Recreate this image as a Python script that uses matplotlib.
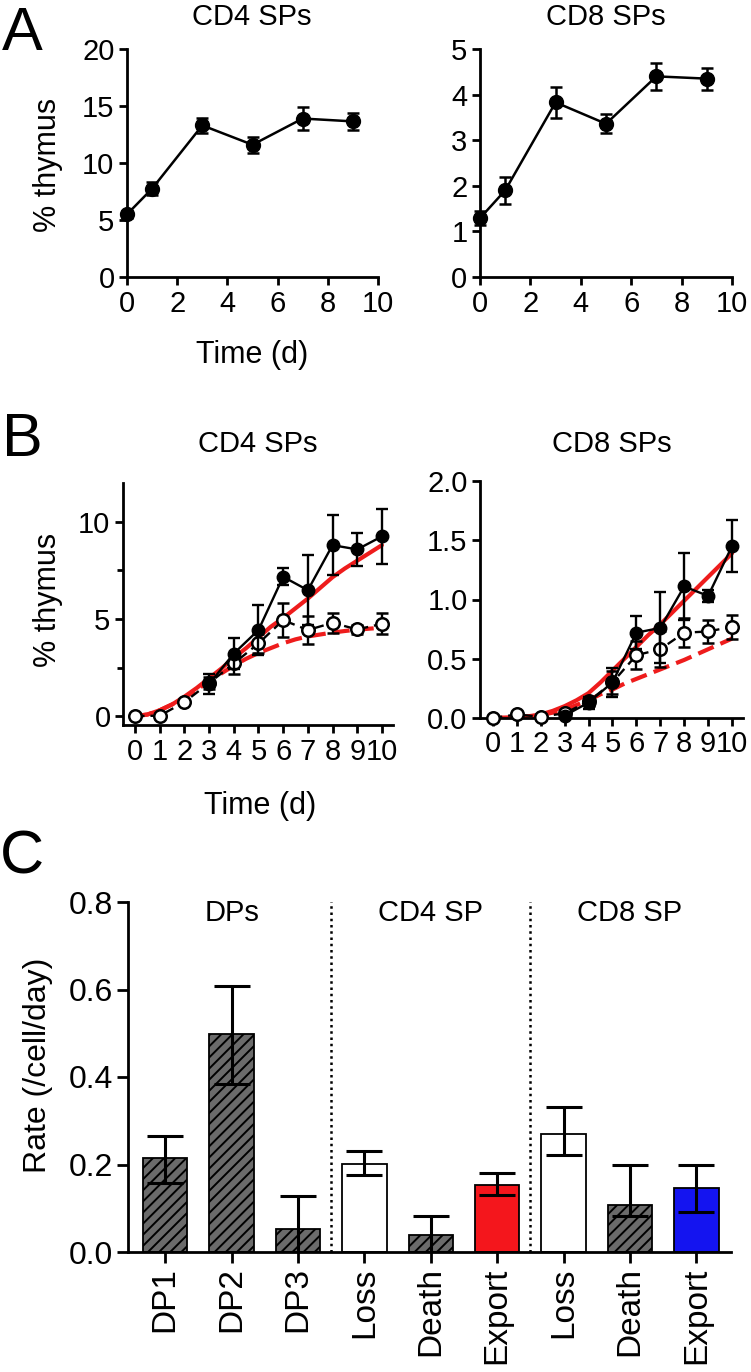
import numpy as np
import matplotlib.pyplot as plt
from matplotlib.ticker import MultipleLocator

plt.rcParams['font.family'] = ['Liberation Sans', 'DejaVu Sans']
plt.rcParams['hatch.linewidth'] = 1.4

# ---- panel A data: % thymus over time
a_days = [0, 1, 3, 5, 7, 9]
a_cd4 = [5.5, 7.75, 13.3, 11.6, 13.9, 13.65]
a_cd4_err = [0.3, 0.6, 0.67, 0.7, 1.0, 0.75]
a_cd8 = [1.29, 1.9, 3.83, 3.36, 4.4, 4.35]
a_cd8_err = [0.15, 0.3, 0.34, 0.21, 0.3, 0.24]

# ---- panel B data
b_days = [0, 1, 2, 3, 4, 5, 6, 7, 8, 9, 10]
b_fill_days = [3, 4, 5, 6, 7, 8, 9, 10]
b_cd4_fill = [1.65, 3.22, 4.43, 7.17, 6.48, 8.8, 8.58, 9.25]
b_cd4_fill_err = [0.5, 0.78, 1.27, 0.43, 1.8, 1.55, 0.84, 1.4]
b_cd4_open = [0.0, 0.02, 0.72, 1.7, 2.71, 3.74, 4.94, 4.43, 4.8, 4.46, 4.75]
b_cd4_open_err = [0.05, 0.05, 0.1, 0.3, 0.55, 0.5, 0.86, 0.7, 0.53, 0.23, 0.55]
b_cd8_fill = [0.02, 0.13, 0.3, 0.72, 0.76, 1.11, 1.03, 1.45]
b_cd8_fill_err = [0.02, 0.05, 0.12, 0.14, 0.3, 0.28, 0.05, 0.22]
b_cd8_open = [0.0, 0.03, 0.01, 0.04, 0.14, 0.3, 0.53, 0.58, 0.72, 0.73, 0.77]
b_cd8_open_err = [0.01, 0.01, 0.01, 0.02, 0.04, 0.1, 0.12, 0.15, 0.12, 0.1, 0.1]

# model curves (at half-day steps)
fit_t = [0, 0.5, 1, 1.5, 2, 2.5, 3, 3.5, 4, 4.5, 5, 5.5, 6, 6.5, 7, 7.5, 8, 8.5, 9, 9.5, 10]
fit_cd4 = [0, 0.08, 0.3, 0.6, 1.0, 1.45, 1.95, 2.45, 3.0, 3.5, 4.05, 4.6, 5.05, 5.55,
           6.05, 6.6, 7.15, 7.6, 8.0, 8.4, 8.8]
fit_cd4_dash = [0, 0.08, 0.3, 0.6, 0.95, 1.35, 1.8, 2.2, 2.6, 2.95, 3.25, 3.5, 3.75,
                3.95, 4.1, 4.2, 4.3, 4.38, 4.45, 4.5, 4.55]
fit_cd8 = [0, 0.002, 0.005, 0.015, 0.03, 0.06, 0.1, 0.15, 0.21, 0.3, 0.4, 0.5, 0.6,
           0.7, 0.79, 0.89, 0.99, 1.09, 1.19, 1.29, 1.39]
fit_cd8_dash = [0, 0.002, 0.005, 0.012, 0.025, 0.045, 0.07, 0.11, 0.15, 0.2, 0.24,
                0.29, 0.33, 0.37, 0.41, 0.45, 0.49, 0.535, 0.58, 0.625, 0.67]

# ---- panel C data: rates
c_labels = ['DP1', 'DP2', 'DP3', 'Loss', 'Death', 'Export', 'Loss', 'Death', 'Export']
c_rate = [0.215, 0.499, 0.053, 0.201, 0.040, 0.154, 0.270, 0.108, 0.146]
c_low = [0.157, 0.383, 0.0, 0.176, 0.0, 0.130, 0.222, 0.082, 0.092]
c_high = [0.265, 0.608, 0.127, 0.230, 0.082, 0.180, 0.332, 0.200, 0.199]
c_colors = ['#6b6b6b', '#6b6b6b', '#6b6b6b', 'white', '#6b6b6b', '#f4161c',
            'white', '#6b6b6b', '#1414f0']
c_hatch = ['///', '///', '///', '', '///', '', '', '///', '']
c_groups = ['DPs', 'CD4 SP', 'CD8 SP']

W, H = 751, 1372
fig = plt.figure(figsize=(W / 100, H / 100), dpi=100)


def box(x0, y0, x1, y1):
    return [x0 / W, 1 - y1 / H, (x1 - x0) / W, (y1 - y0) / H]


def ftext(x, y, s, **kw):
    fig.text(x / W, 1 - y / H, s, ha=kw.pop('ha', 'center'), va=kw.pop('va', 'center'), **kw)


def style(ax, size=21):
    for s in ['top', 'right']:
        ax.spines[s].set_visible(False)
    for s in ['left', 'bottom']:
        ax.spines[s].set_linewidth(2)
    ax.tick_params(width=2, length=6, labelsize=size, pad=3)


# ---- A
axA1 = fig.add_axes(box(127, 49, 378, 277))
axA2 = fig.add_axes(box(480, 49, 732, 277))
for ax, vals, errs, top in [(axA1, a_cd4, a_cd4_err, 20), (axA2, a_cd8, a_cd8_err, 5)]:
    style(ax)
    ax.errorbar(a_days, vals, yerr=errs, fmt='-o', color='black', ms=10, lw=1.8,
                capsize=4.5, elinewidth=1.8, capthick=1.8, clip_on=False, zorder=3)
    ax.set_xlim(0, 10)
    ax.set_ylim(0, top)
    ax.xaxis.set_major_locator(MultipleLocator(2))
    ax.yaxis.set_major_locator(MultipleLocator(5 if top == 20 else 1))

# ---- B
axB1 = fig.add_axes(box(123, 483, 393, 725))
axB2 = fig.add_axes(box(480, 481, 743, 718))
specs = [(axB1, b_cd4_fill, b_cd4_fill_err, b_cd4_open, b_cd4_open_err, fit_cd4, fit_cd4_dash),
         (axB2, b_cd8_fill, b_cd8_fill_err, b_cd8_open, b_cd8_open_err, fit_cd8, fit_cd8_dash)]
for ax, f, fe, o, oe, fs, fd in specs:
    style(ax)
    ax.plot(fit_t, fs, color='#ee1c1c', lw=3, zorder=2, solid_capstyle='round')
    ax.plot(fit_t, fd, color='#ee1c1c', lw=3, zorder=2, dashes=(4, 1.8))
    ax.errorbar(b_days, o, yerr=oe, fmt='o', color='black', mfc='white', mec='black',
                mew=1.8, ms=9, capsize=4.5, elinewidth=1.7, capthick=1.7, zorder=3,
                clip_on=False)
    ax.plot(b_days, o, color='black', lw=1.7, dashes=(4, 2.5), zorder=2.5)
    ax.errorbar(b_fill_days, f, yerr=fe, fmt='-o', color='black', ms=9, lw=1.7,
                capsize=4.5, elinewidth=1.7, capthick=1.7, zorder=4, clip_on=False)
    ax.set_xticks(b_days)

axB1.set_xlim(-0.49, 10.45)
axB1.set_ylim(-0.46, 12.0)
axB1.set_yticks([0, 5, 10])
axB1.yaxis.set_minor_locator(MultipleLocator(2.5))
axB1.tick_params(axis='y', which='minor', length=4, width=2)
axB2.set_xlim(-0.54, 10.46)
axB2.set_ylim(0, 2.0)
axB2.set_yticks([0, 0.5, 1.0, 1.5, 2.0])
axB2.set_yticklabels(['0.0', '0.5', '1.0', '1.5', '2.0'])

# ---- C
axC = fig.add_axes(box(128, 902, 731, 1252))
style(axC, size=23)
x = np.arange(len(c_labels))
bars = axC.bar(x, c_rate, width=0.67, color=c_colors, edgecolor='black', linewidth=1.3,
               zorder=2)
for b, h in zip(bars, c_hatch):
    b.set_hatch(h)
yerr = [np.array(c_rate) - np.array(c_low), np.array(c_high) - np.array(c_rate)]
axC.errorbar(x, c_rate, yerr=yerr, fmt='none', ecolor='black', elinewidth=2.2,
             capsize=13, capthick=2.2, zorder=3)
axC.vlines([2.5, 5.5], 0, 0.81, colors='black', linestyles=(0, (1, 1.5)), lw=1.8)
for gx, g in zip([1, 4, 7], c_groups):
    axC.text(gx, 0.775, g, ha='center', va='center', fontsize=21)
axC.set_xlim(-0.56, 8.52)
axC.set_ylim(0, 0.8)
axC.set_xticks(x)
axC.set_xticklabels(c_labels, rotation=90, fontsize=24)
axC.set_yticks([0, 0.2, 0.4, 0.6, 0.8])
axC.set_yticklabels(['0.0', '0.2', '0.4', '0.6', '0.8'])
axC.tick_params(length=8)

# ---- text
ftext(252, 17, 'CD4 SPs', fontsize=21)
ftext(606, 17, 'CD8 SPs', fontsize=21)
ftext(258, 444, 'CD4 SPs', fontsize=21)
ftext(612, 444, 'CD8 SPs', fontsize=21)
ftext(48, 165, '% thymus', fontsize=22, rotation=90)
ftext(48, 600, '% thymus', fontsize=22, rotation=90)
ftext(252, 355, 'Time (d)', fontsize=22)
ftext(260, 806, 'Time (d)', fontsize=22)
ftext(38, 1065, 'Rate (/cell/day)', fontsize=23, rotation=90)
ftext(2, 6, 'A', fontsize=44, ha='left', va='top')
ftext(2, 412, 'B', fontsize=44, ha='left', va='top')
ftext(0, 830, 'C', fontsize=44, ha='left', va='top')

fig.savefig('out.png', dpi=100)
